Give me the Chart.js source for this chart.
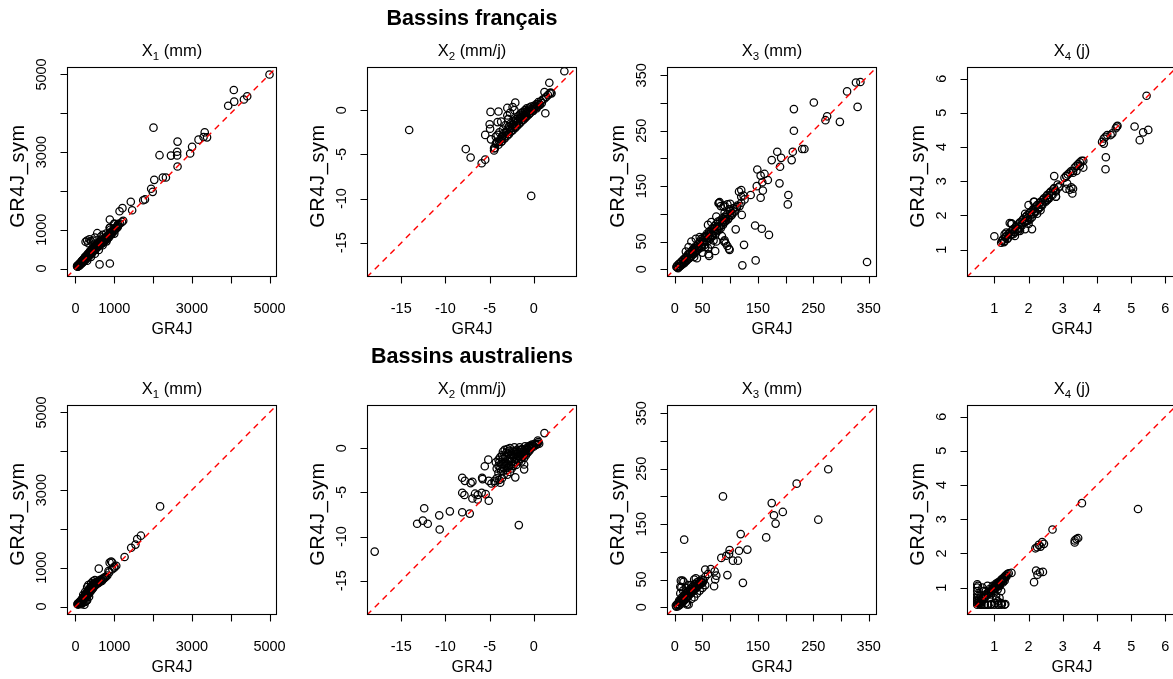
<!DOCTYPE html>
<html>
<head>
<meta charset="utf-8">
<script src="https://cdn.jsdelivr.net/npm/chart.js@4.4.1/dist/chart.umd.min.js"></script>
<style>
html,body{margin:0;padding:0;background:#fff;width:1173px;height:679px;overflow:hidden;}
#wrap{position:relative;width:1173px;height:679px;overflow:hidden;}
canvas{position:absolute;}
</style>
</head>
<body>
<div id="wrap"></div>
<script>
// ---------------- axis settings ----------------
const groupTitles = ['Bassins français', 'Bassins australiens'];
const paramNames = ['X', 'X', 'X', 'X'];
const paramSubs = ['1', '2', '3', '4'];
const paramUnits = [' (mm)', ' (mm/j)', ' (mm)', ' (j)'];
const xLabel = 'GR4J';
const yLabel = 'GR4J_sym';

const limX1 = [-219, 5193];
const limX2 = [-18.87, 4.88];
const limX3 = [-14, 365];
const limX4 = [0.2, 6.34];

const ticksX1 = [0, 1000, 2000, 3000, 4000, 5000];
const tickLabelsX1 = ['0', '1000', '', '3000', '', '5000'];
const ticksX2 = [-15, -10, -5, 0];
const tickLabelsX2 = ['-15', '-10', '-5', '0'];
const ticksX3 = [0, 50, 100, 150, 200, 250, 300, 350];
const tickLabelsX3 = ['0', '50', '', '150', '', '250', '', '350'];
const ticksX4 = [1, 2, 3, 4, 5, 6];
const tickLabelsX4 = ['1', '2', '3', '4', '5', '6'];

// ---------------- data: French catchments ----------------
const frX1_gr4j = [5000,4080,4090,3935,4340,4425,2010,3330,3170,3300,3390,2630,2620,2620,2460,2165,3005,2955,2630,2330,2250,2030,1950,1990,1745,1790,1425,1460,1210,1135,1230,885,890,1000,620,885,
 40,60,80,100,110,130,150,160,180,190,200,210,230,240,250,260,280,290,300,310,320,330,350,360,370,380,400,410,420,430,450,460,470,480,500,510,520,540,550,560,580,600,620,640,660,680,700,720,740,760,780,800,830,850,880,900,940,970,1000,1040,1080,1100,1150,1200,
 260,300,360,330,400,450,560,500,650,700,790,880,900,1000,1100,700,800,600,500,400,300,1000,
 45,55,70,85,95,105,120,135,145,160,175,185,195,215,225,235,245,255,265,275,285,295,305,315,325,340,345,355,365,375,385,395,405,415,425,435,445,455,465,475,485,495,505,515,530,545,555,570,590,610,630,650,670,690,710,730,750,770,790,810,820,840,860,870,890,910,920,950,990,1020,1060,1090];
const frX1_sym = [5000,4600,4300,4195,4355,4440,3630,3510,3320,3390,3380,3270,3010,2915,2910,2920,3135,2965,2630,2345,2345,2285,2055,1975,1760,1780,1720,1500,1555,1475,1230,1262,1050,1150,105,130,
 60,50,90,80,130,110,170,140,200,160,230,190,260,220,300,250,320,270,350,300,380,330,400,350,440,390,460,410,500,440,520,470,560,500,580,530,600,560,640,590,660,620,680,650,700,690,740,720,780,760,800,820,850,870,900,930,960,1000,1030,1060,1100,1130,1160,1200,
 690,720,755,650,700,720,910,800,820,870,900,1050,1000,1150,1150,600,700,480,380,300,200,900,
 70,45,60,110,75,120,100,150,125,190,150,220,175,240,205,280,215,290,240,310,260,330,280,340,310,370,320,400,345,410,370,430,385,450,400,470,430,500,450,520,470,540,490,560,510,580,540,600,570,640,600,660,640,680,660,720,700,760,740,790,760,820,800,840,860,880,870,920,960,1000,1040,1070];

const frX2_gr4j = [3.45,1.75,1.2,1.3,-14.1,-7.7,-7.15,-5.9,-5.5,-0.3,-4.9,-4.0,-3.0,-2.1,-2.4,-5.0,-4.95,-5.5,-4.1,-4.85,-4.4,-4.5,-4.2,-2.9,
 -4.5,-4.3,-4.0,-3.8,-3.6,-3.5,-3.3,-3.2,-3.0,-3.0,-2.8,-2.8,-2.6,-2.6,-2.5,-2.4,-2.3,-2.2,-2.1,-2.0,-2.0,-1.9,-1.8,-1.8,-1.7,-1.6,-1.5,-1.5,-1.4,-1.3,-1.2,-1.2,-1.1,-1.0,-1.0,-0.9,-0.8,-0.8,-0.7,-0.6,-0.5,-0.5,-0.4,-0.3,-0.2,-0.1,0.0,0.0,0.2,0.3,0.4,0.5,0.6,0.8,0.9,1.0,1.2,1.4,1.6,1.8,2.0,1.9,
 -3.7,-3.5,-4.1,-3.9,-2.9,-3.2,-2.2,-4.3,-3.0,-3.7,-2.7,
 -4.2,-3.9,-3.6,-3.4,-3.1,-2.9,-2.7,-2.5,-2.3,-2.1,-1.9,-1.7,-1.5,-1.3,-1.1,-0.9,-0.7,-0.5,-0.3,-0.1,0.1,0.3,0.5,0.7,-3.4,-2.8,-2.4,-2.0,-1.6,-1.2,-0.8];
const frX2_sym = [4.4,3.1,2.05,-0.35,-2.25,-4.4,-5.35,-6.0,-5.6,-9.7,-0.2,-0.15,0.25,0.85,0.35,-1.6,-2.1,-2.8,-1.35,-3.3,-4.3,-4.55,-3.7,-1.0,
 -4.3,-3.8,-3.9,-3.3,-3.5,-2.9,-3.2,-2.5,-2.9,-2.2,-2.7,-1.8,-2.4,-1.5,-2.0,-2.3,-1.2,-1.8,-2.0,-1.0,-1.5,-1.8,-0.7,-1.3,-1.6,-0.5,-1.0,-1.4,-0.3,-0.8,-1.1,-0.2,-0.5,-0.9,0.0,-0.4,-0.7,0.2,-0.2,-0.5,0.3,-0.1,-0.3,0.4,0.0,-0.1,0.5,0.1,0.3,0.7,0.4,0.9,0.6,1.0,0.8,1.2,1.3,1.5,1.7,1.9,1.9,2.0,
 -1.3,-2.2,-2.8,-2.5,-1.0,-1.7,0.0,-3.0,-0.6,-3.6,-0.3,
 -3.6,-3.5,-3.0,-3.2,-2.6,-2.7,-2.1,-2.3,-1.7,-1.9,-1.3,-1.5,-0.9,-1.1,-0.6,-0.7,-0.3,-0.4,0.1,-0.1,0.4,0.2,0.7,0.6,-2.6,-1.9,-1.6,-1.2,-0.8,-0.5,-0.1];

const frX3_gr4j = [347,327,335,330,311,251,215,215,275,272,298,230,234,213,211,185,192,175,190,189,205,204,149,155,162,168,158,148,159,155,120,124,137,81,121,110,145,157,170,125,122,146,98,92,90,73,61,
 3,5,8,10,12,14,16,18,20,22,24,26,28,30,32,33,35,36,38,40,42,43,45,47,48,50,52,53,55,57,58,60,62,63,65,67,68,70,72,73,75,77,78,80,82,84,86,88,90,92,95,97,100,103,106,110,113,117,120,
 40,50,35,55,60,30,45,38,65,70,85,80,75,90,95,100,88,60,66,25,20,79,89,95,99,62,75,116,120,126,83,90,98,106,
 4,6,7,9,11,13,15,17,19,21,23,25,27,29,31,34,37,39,41,44,46,49,51,54,56,59,61,64,66,69,71,74,76,79,81,83,85,87,89,91,93,96,99,101,104,108,112];
const frX3_sym = [13,337,338,293,321,301,289,250,276,269,266,217,217,212,197,212,201,197,185,155,134,117,180,169,172,161,157,150,142,129,143,133,134,121,98,72,79,73,62,44,7,16,37,47,52,33,27,
 4,3,10,6,14,10,18,13,22,17,27,20,30,25,35,28,38,31,42,35,45,38,50,42,55,46,57,49,60,52,64,56,68,59,70,62,74,66,78,69,82,72,86,76,88,79,92,84,95,88,100,92,105,98,110,108,115,114,120,
 20,30,22,40,38,50,58,55,45,52,60,120,95,115,117,118,113,80,85,40,32,119,50,42,35,24,50,140,131,126,114,102,108,110,
 6,2,9,5,12,8,16,11,20,15,24,19,28,22,33,27,37,32,40,37,48,40,52,44,58,50,62,55,66,60,72,64,76,70,78,74,85,80,90,86,94,90,98,96,101,104,112];

const frX4_gr4j = [5.45,5.1,5.25,5.35,5.5,4.26,4.25,2.75,3.1,3.13,3.2,3.3,3.25,3.28,3.1,2.8,2.1,2.17,1.0,1.5,
 1.2,1.25,1.3,1.35,1.4,1.45,1.5,1.55,1.6,1.65,1.7,1.75,1.8,1.85,1.9,1.95,2.0,2.05,2.1,2.15,2.2,2.25,2.3,2.35,2.4,2.45,2.5,2.55,2.6,2.65,2.7,2.75,2.8,2.85,2.9,
 1.5,1.45,1.7,1.9,2.0,2.05,2.15,2.25,1.3,1.9,2.0,2.8,2.55,2.35,1.6,1.75,
 3.05,3.1,3.15,3.2,3.25,3.3,3.35,3.4,3.45,3.5,3.55,3.6,3.5,3.6,3.4,3.3,
 4.15,4.2,4.2,4.25,4.3,4.4,4.45,4.55,4.6,4.58,
 1.22,1.28,1.32,1.38,1.42,1.48,1.52,1.58,1.62,1.68,1.72,1.78,1.82,1.88,1.92,1.98,2.02,2.08,2.12,2.18,2.22,2.28,2.32,2.38,2.42,2.48,2.52,2.58,2.62,2.68,2.72,2.78,2.88,1.35,1.55,1.75,1.95,2.15,2.35,2.55];
const frX4_sym = [5.5,4.6,4.2,4.43,4.5,3.7,3.35,3.15,3.15,2.93,2.75,2.78,2.82,2.64,2.78,2.55,1.6,2.4,1.39,1.77,
 1.2,1.3,1.25,1.4,1.35,1.5,1.45,1.6,1.5,1.7,1.6,1.8,1.7,1.9,1.8,2.0,1.85,2.1,1.95,2.2,2.1,2.3,2.2,2.4,2.3,2.5,2.4,2.6,2.5,2.7,2.6,2.8,2.7,2.9,2.85,
 1.75,1.78,1.55,1.6,1.75,1.9,2.4,2.05,1.45,2.05,2.3,2.55,2.45,2.15,1.4,1.55,
 3.1,3.15,3.2,3.25,3.3,3.3,3.4,3.45,3.5,3.55,3.6,3.6,3.45,3.4,3.3,3.25,
 4.15,4.1,4.25,4.3,4.35,4.35,4.4,4.55,4.62,4.6,
 1.26,1.22,1.36,1.31,1.46,1.42,1.56,1.52,1.66,1.62,1.76,1.72,1.86,1.82,1.96,1.92,2.06,2.02,2.16,2.12,2.26,2.21,2.36,2.32,2.46,2.42,2.56,2.52,2.66,2.62,2.76,2.72,2.82,1.5,1.45,1.65,1.85,2.05,2.25,2.5];

// ---------------- data: Australian catchments ----------------
const auX1_gr4j = [2180,1685,1590,1545,1435,1265,920,945,880,1005,850,600,
 50,70,90,100,120,140,150,170,180,200,210,230,240,260,270,290,300,320,330,350,360,380,390,410,420,440,450,470,480,500,520,540,560,580,600,620,650,680,700,740,780,820,870,950,1000,1050,
 230,250,300,200,250,330,300,400,450,500,280,350,180,150,
 60,80,110,130,160,190,220,250,280,310,340,370,400,430,460,490,510,530,550,570,590,610,640,660,700,720,760];
const auX1_sym = [2580,1825,1740,1595,1515,1275,1160,1130,1130,1030,915,975,
 60,50,100,80,130,110,170,140,210,170,250,200,280,230,330,260,380,300,420,340,460,380,500,420,540,460,580,500,600,540,620,580,640,600,660,630,680,660,720,730,760,800,880,960,1000,1050,
 45,120,160,300,380,550,500,600,650,680,150,250,90,60,
 75,70,120,90,150,200,240,260,300,350,400,420,470,500,540,580,600,560,620,610,650,620,690,670,700,710,760];

const auX2_gr4j = [-18.0,-13.2,-12.55,-12.4,-12.0,-10.7,-10.65,-9.5,-8.1,-7.8,-8.1,-7.85,-8.1,-7.25,-7.15,-6.95,-6.65,-6.95,-6.35,-6.35,-5.85,-5.8,-5.55,-5.9,-5.45,-5.1,-5.15,-5.1,-4.8,-4.45,-1.7,1.2,0.45,-1.1,-2.1,-1.1,
 -4.0,-4.0,-4.0,-3.9,-3.8,-3.7,-3.7,-3.6,-3.5,-3.5,-3.4,-3.4,-3.3,-3.2,-3.2,-3.1,-3.0,-3.0,-2.9,-2.9,-2.8,-2.7,-2.7,-2.6,-2.5,-2.5,-2.4,-2.3,-2.3,-2.2,-2.1,-2.0,-2.0,-1.9,-1.8,-1.7,-1.6,-1.5,-1.5,-1.4,-1.3,-1.2,-1.1,-1.0,-1.0,-0.9,-0.8,-0.7,-0.6,-0.5,-0.4,-0.3,-0.2,0.0,0.1,0.3,0.5,0.6,-4.4,-4.2,-3.8,-4.3,-4.2,
 -3.9,-3.8,-3.6,-3.5,-3.3,-3.2,-3.1,-2.9,-2.8,-2.6,-2.5,-2.4,-2.2,-2.1,-1.9,-1.8,-1.6,-1.4,-1.3,-1.1,-0.9,-0.7,-0.5,-0.3,-0.1,0.2,0.4,-3.0,-2.7,-2.3,-1.9,-1.5,-1.0,-0.6,-3.4,-2.8,-2.0,-1.2];
const auX2_sym = [-11.7,-8.55,-8.2,-6.8,-8.55,-7.6,-9.2,-7.15,-3.35,-3.7,-5.05,-5.3,-7.25,-7.4,-3.95,-3.8,-5.15,-5.7,-5.3,-5.8,-3.35,-3.5,-2.05,-5.05,-5.2,-5.95,-1.3,-3.7,-4.0,-3.7,-8.7,1.7,0.85,-2.4,-3.3,-1.85,
 -1.3,-2.0,-2.8,-3.6,-1.0,-1.8,-2.6,-3.4,-0.4,-1.2,-2.2,-3.0,-0.2,-0.9,-1.6,-2.5,-0.1,-3.0,-0.6,-1.3,-2.0,-2.7,0.0,-0.8,-1.5,-2.3,-0.3,-1.0,-2.0,0.1,-0.6,-1.3,-1.9,-0.2,-0.9,-1.5,0.1,-0.5,-1.2,-1.5,-0.1,-0.8,-1.1,0.2,-0.4,-0.8,0.0,-0.5,0.2,-0.3,0.3,0.0,0.4,0.2,0.5,0.4,0.7,0.5,-3.9,-3.4,-3.9,-1.6,-2.3,
 -1.6,-2.3,-0.8,-2.6,-1.2,-2.0,-0.5,-2.2,-0.3,-1.9,-0.6,-1.8,-0.4,-1.6,-1.2,-0.4,-0.9,-0.2,-1.0,-0.6,-0.2,-0.1,0.1,0.2,0.3,0.35,0.5,-1.8,-1.2,-0.7,-0.6,-0.2,-0.6,-0.2,-1.8,-1.5,-0.4,-0.4];

const auX3_gr4j = [277,220,87,175,179,195,182,259,165,119,17,131,116,99,93,98,114,105,84,95,123,55,65,72,75,73,71,
 2,3,5,6,8,9,10,12,13,15,16,18,19,21,22,24,25,27,28,30,31,33,34,36,37,39,40,42,44,46,48,50,52,38,35,30,25,20,15,10,40,35,45,30,20,25,50,55,60,55,12,16,14,10,11,22,
 4,7,9,11,14,17,20,23,26,29,32,35,38,41,43,45,47,49,51,33,28,24,18,13,8];
const auX3_sym = [249,223,200,188,166,172,151,158,126,132,122,104,102,103,93,96,84,84,89,58,44,68,69,65,57,50,38,
 3,1,6,2,10,4,12,7,15,10,20,13,24,16,27,20,30,23,33,26,36,29,39,32,42,35,45,38,47,41,50,44,48,52,50,40,40,35,30,25,25,18,30,15,8,5,35,40,60,55,36,46,48,37,48,5,
 5,4,8,9,12,14,18,19,25,27,30,33,37,40,42,44,46,45,49,38,30,27,22,18,12];

const auX4_gr4j = [5.2,3.56,2.7,3.35,3.45,3.4,3.35,2.16,2.22,2.33,2.42,2.26,2.2,2.3,2.4,2.45,2.35,2.25,
 0.5,0.55,0.6,0.65,0.7,0.75,0.8,0.85,0.9,0.95,1.0,1.02,1.05,1.08,1.1,1.12,1.15,1.18,1.2,1.22,1.25,1.28,1.3,1.33,1.35,1.38,1.42,1.5,1.25,1.3,1.1,1.15,1.0,1.2,
 0.5,0.5,0.5,0.5,0.5,0.5,0.52,0.52,
 0.6,0.7,0.8,0.9,1.0,1.1,1.2,1.3,1.32,
 0.8,1.05,1.1,1.2,0.9,1.05,1.15,0.7,0.65,
 0.55,0.6,0.65,0.7,0.75,0.8,0.85,0.9,0.95,1.0,1.05,1.1,1.15,1.2,1.25,1.3,1.35,0.55,0.6,0.75,0.85,0.95,1.05,1.15,1.25,0.5,0.5,0.62,0.72,0.82,0.92,1.02,1.12,1.22];
const auX4_sym = [3.3,3.47,2.7,2.38,2.45,2.42,2.32,1.16,1.5,1.45,1.46,1.38,2.15,2.25,2.33,2.28,2.2,2.18,
 0.5,0.58,0.6,0.7,0.68,0.78,0.8,0.88,0.9,0.97,1.0,1.06,1.05,1.12,1.1,1.16,1.15,1.2,1.22,1.25,1.25,1.3,1.3,1.35,1.35,1.4,1.42,1.43,1.18,1.2,0.95,1.05,0.9,0.9,
 0.6,0.7,0.8,0.9,1.0,1.1,1.05,0.75,
 0.5,0.5,0.5,0.5,0.5,0.5,0.5,0.5,0.52,
 1.05,0.65,0.6,0.55,0.8,0.75,0.7,0.9,1.0,
 0.52,0.55,0.62,0.72,0.74,0.84,0.82,0.86,0.92,1.04,1.0,1.05,1.1,1.18,1.22,1.27,1.32,0.65,0.75,0.9,0.95,1.05,1.12,1.05,1.15,0.55,0.65,0.5,0.5,0.5,0.52,0.55,0.5,0.52];

// ---------------- layout ----------------
const FONT = '"Liberation Sans", Arial, Helvetica, sans-serif';
const limits = [limX1, limX2, limX3, limX4];
const ticks = [ticksX1, ticksX2, ticksX3, ticksX4];
const tickLabels = [tickLabelsX1, tickLabelsX2, tickLabelsX3, tickLabelsX4];
const series = [
  [[frX1_gr4j, frX1_sym], [frX2_gr4j, frX2_sym], [frX3_gr4j, frX3_sym], [frX4_gr4j, frX4_sym]],
  [[auX1_gr4j, auX1_sym], [auX2_gr4j, auX2_sym], [auX3_gr4j, auX3_sym], [auX4_gr4j, auX4_sym]]
];

const CW = 300, CH = 338;
const PAD = {left: 67, top: 67, right: 23, bottom: 61};

function drawSubTitle(ctx, cx, baseline, main, sub, rest) {
  const big = '16.5px ' + FONT, small = '11.5px ' + FONT;
  ctx.font = big; const w1 = ctx.measureText(main).width; const w3 = ctx.measureText(rest).width;
  ctx.font = small; const w2 = ctx.measureText(sub).width;
  let x = cx - (w1 + w2 + w3) / 2;
  ctx.textAlign = 'left'; ctx.textBaseline = 'alphabetic';
  ctx.font = big; ctx.fillText(main, x, baseline); x += w1;
  ctx.font = small; ctx.fillText(sub, x, baseline + 4); x += w2;
  ctx.font = big; ctx.fillText(rest, x, baseline);
}

function makePlugin(row, col) {
  return {
    id: 'rframe' + row + col,
    afterDraw(chart) {
      const ctx = chart.ctx;
      const a = chart.chartArea;
      const xs = chart.scales.x, ys = chart.scales.y;
      ctx.save();
      ctx.strokeStyle = '#000'; ctx.fillStyle = '#000'; ctx.lineWidth = 1.1;
      const L = Math.round(a.left) + 0.5, R = Math.round(a.right) - 0.5;
      const T = Math.round(a.top) + 0.5, B = Math.round(a.bottom) - 0.5;
      ctx.strokeRect(L, T, R - L, B - T);
      // ticks
      ctx.beginPath();
      ticks[col].forEach(v => {
        const px = Math.round(xs.getPixelForValue(v)) + 0.5;
        ctx.moveTo(px, B); ctx.lineTo(px, B + 7);
        const py = Math.round(ys.getPixelForValue(v)) + 0.5;
        ctx.moveTo(L, py); ctx.lineTo(L - 7, py);
      });
      ctx.stroke();
      ctx.font = '14.5px ' + FONT;
      ctx.textAlign = 'center'; ctx.textBaseline = 'alphabetic';
      ticks[col].forEach((v, i) => {
        const lab = tickLabels[col][i];
        if (!lab) return;
        ctx.fillText(lab, xs.getPixelForValue(v), a.bottom + 36);
        ctx.save();
        ctx.translate(a.left - 21, ys.getPixelForValue(v));
        ctx.rotate(-Math.PI / 2);
        ctx.fillText(lab, 0, 0);
        ctx.restore();
      });
      // axis labels
      ctx.font = '16px ' + FONT;
      ctx.fillText(xLabel, (a.left + a.right) / 2, a.bottom + 57);
      ctx.save();
      ctx.translate(a.left - 43, (a.top + a.bottom) / 2 + 4);
      ctx.rotate(-Math.PI / 2);
      ctx.font = '20px ' + FONT;
      ctx.letterSpacing = '0.6px';
      ctx.fillText(yLabel, 0, 0);
      ctx.restore();
      // panel title
      drawSubTitle(ctx, (a.left + a.right) / 2, a.top - 11, paramNames[col], paramSubs[col], paramUnits[col]);
      // group title
      if (col === 1) {
        ctx.font = 'bold 21.5px ' + FONT;
        ctx.textAlign = 'center';
        ctx.fillText(groupTitles[row], (a.left + a.right) / 2, a.top - 42);
      }
      ctx.restore();
    }
  };
}

const wrap = document.getElementById('wrap');
for (let r = 0; r < 2; r++) {
  for (let c = 0; c < 4; c++) {
    const cv = document.createElement('canvas');
    cv.width = CW; cv.height = CH;
    cv.style.left = (c * CW) + 'px';
    cv.style.top = (r * CH) + 'px';
    cv.style.width = CW + 'px'; cv.style.height = CH + 'px';
    wrap.appendChild(cv);
    const lim = limits[c];
    const xsArr = series[r][c][0], ysArr = series[r][c][1];
    const pts = xsArr.map((x, i) => ({x: x, y: ysArr[i]}));
    new Chart(cv, {
      type: 'scatter',
      data: {
        datasets: [
          {
            type: 'line',
            data: [{x: lim[0], y: lim[0]}, {x: lim[1], y: lim[1]}],
            borderColor: '#FF0000', borderWidth: 1.4, borderDash: [6, 5],
            pointRadius: 0, fill: false, tension: 0, clip: 0
          },
          {
            data: pts,
            pointRadius: 3.7, pointHoverRadius: 3.7,
            pointBorderColor: '#000', pointBackgroundColor: 'rgba(0,0,0,0)',
            pointBorderWidth: 1.25, showLine: false, clip: 0
          }
        ]
      },
      options: {
        responsive: false, animation: false, devicePixelRatio: 1, events: [],
        layout: {padding: PAD},
        scales: {
          x: {type: 'linear', min: lim[0], max: lim[1], display: false},
          y: {type: 'linear', min: lim[0], max: lim[1], display: false}
        },
        plugins: {legend: {display: false}, tooltip: {enabled: false}, title: {display: false}}
      },
      plugins: [makePlugin(r, c)]
    });
  }
}
</script>
</body>
</html>
